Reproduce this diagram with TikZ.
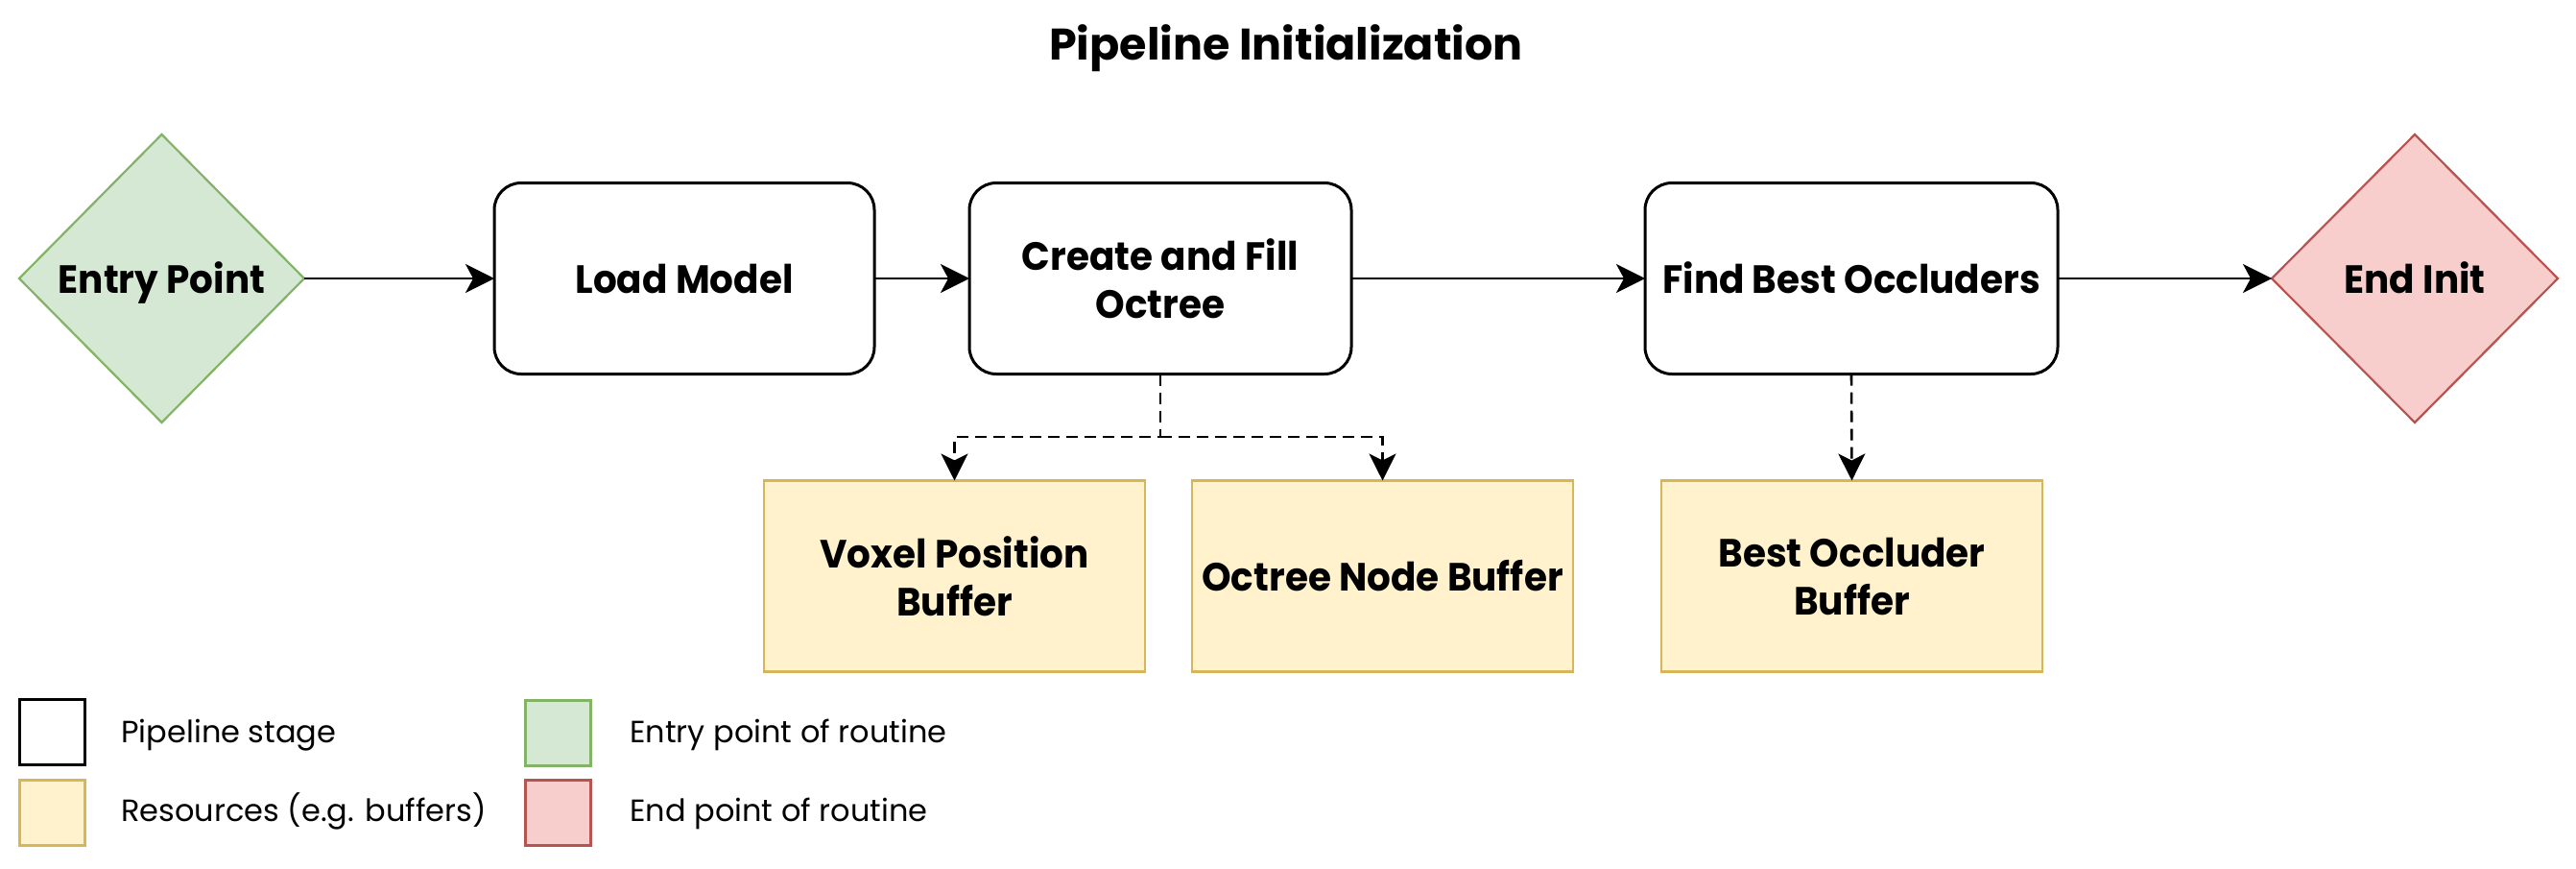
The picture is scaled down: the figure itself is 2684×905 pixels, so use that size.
\documentclass[tikz,border=0pt]{standalone}
\usepackage{fontspec}
\setmainfont{Poppins}
\newfontfamily\narrowfam{Poppins}[FakeStretch=0.95]
\usetikzlibrary{arrows.meta,shapes.geometric}
\definecolor{greenfill}{HTML}{D5E8D4}
\definecolor{greenline}{HTML}{82B366}
\definecolor{redfill}{HTML}{F8CECC}
\definecolor{redline}{HTML}{B85450}
\definecolor{yelfill}{HTML}{FFF2CC}
\definecolor{yelline}{HTML}{D6B656}
\newcommand{\nodefont}{\narrowfam\fontsize{20.5}{25}\selectfont\bfseries}
\newcommand{\legfont}{\fontsize{16}{19}\selectfont}
\newcommand{\titlefont}{\fontsize{23}{28}\selectfont\bfseries}
\begin{document}
\begin{tikzpicture}[x=0.5pt,y=-0.5pt,
  stagebox/.style={draw=black, line width=1.5pt, rounded corners=14pt, fill=white,
    inner sep=0pt, outer sep=0pt, font=\nodefont, align=center},
  resbox/.style={draw=yelline, fill=yelfill, line width=1.3pt,
    inner sep=0pt, outer sep=0pt, font=\nodefont, align=center},
  entrydia/.style={diamond, draw=greenline, fill=greenfill, line width=1.1pt,
    inner sep=0pt, outer sep=0pt, font=\nodefont},
  enddia/.style={diamond, draw=redline, fill=redfill, line width=1.1pt,
    inner sep=0pt, outer sep=0pt, font=\nodefont},
  oneline/.style={text height=15.2pt, text depth=0pt},
  flow/.style={line width=1.3pt, -{Stealth[length=15pt,width=15pt,inset=4pt]}},
  dflow/.style={line width=1.3pt, dash pattern=on 6pt off 3.5pt,
    -{Stealth[length=14pt,width=14pt,inset=3.5pt]}},
  legsq/.style={line width=1.5pt, minimum size=34pt, inner sep=0pt, outer sep=0pt},
  legtext/.style={font=\legfont, inner sep=0pt, anchor=base west}
]
\fill[white] (0,0) rectangle (2684,905);
\useasboundingbox (0,0) rectangle (2684,905);

\node[font=\titlefont, inner sep=0pt, anchor=base] (title) at (1340,62) {Pipeline Initialization};

\node[entrydia, oneline, minimum width=148.5pt, minimum height=150pt] (entry) at (168.5,290) {Entry Point};
\node[stagebox, oneline, minimum width=198pt, minimum height=99.5pt] (load) at (713,290) {Load Model};
\node[stagebox, minimum width=199pt, minimum height=99.5pt] (create) at (1209,290) {Create and Fill\\Octree};
\node[stagebox, oneline, minimum width=215pt, minimum height=99.5pt] (find) at (1929,290) {Find Best Occluders};
\node[enddia, oneline, minimum width=149pt, minimum height=150pt] (endinit) at (2516,290) {End Init};

\node[resbox, minimum width=198.5pt, minimum height=99.5pt] (voxel) at (994.5,600) {Voxel Position\\Buffer};
\node[resbox, oneline, minimum width=198.5pt, minimum height=99.5pt] (octree) at (1440.5,600) {Octree Node Buffer};
\node[resbox, minimum width=198.5pt, minimum height=99.5pt] (best) at (1929.5,600) {Best Occluder\\Buffer};

\draw[flow] (entry.east) -- (load.west);
\draw[flow] (load.east) -- (create.west);
\draw[flow] (create.east) -- (find.west);
\draw[flow] (find.east) -- (endinit.west);

\coordinate (split) at (1209,455);
\draw[dflow] (create.south) -- (split) -| (voxel.north);
\draw[dflow] (split) -| (octree.north);
\draw[dflow] (find.south) -- (best.north);

\node[legsq, draw=black, fill=white] (lgstage) at (54,762) {};
\node[legsq, draw=yelline, fill=yelfill] (lgres) at (54,846.5) {};
\node[legsq, draw=greenline, fill=greenfill] (lgentry) at (581,763.5) {};
\node[legsq, draw=redline, fill=redfill] (lgend) at (581,846.5) {};

\node[legtext] (lgstagetxt) at (126,773) {Pipeline stage};
\node[legtext] (lgrestxt) at (126,855) {Resources (e.g. buffers)};
\node[legtext] (lgentrytxt) at (656,773) {Entry point of routine};
\node[legtext] (lgendtxt) at (656,855) {End point of routine};
\end{tikzpicture}
\end{document}
